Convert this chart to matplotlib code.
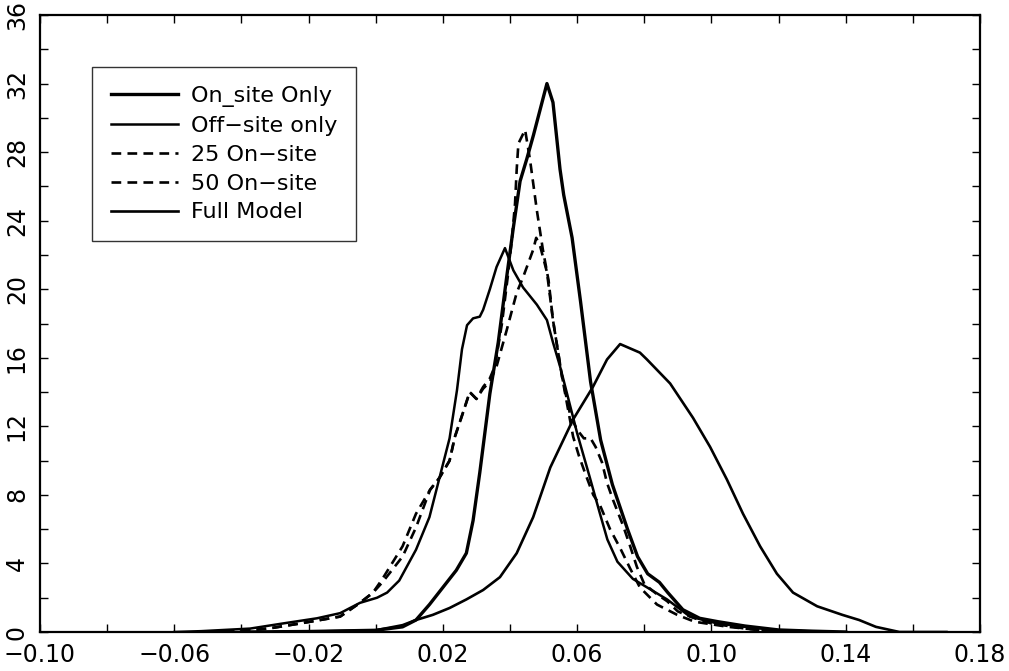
import matplotlib
matplotlib.use("Agg")
import matplotlib.pyplot as plt
from matplotlib.ticker import MultipleLocator

plt.rcParams['font.family'] = ['DejaVu Sans']
plt.rcParams['lines.scale_dashes'] = False

# ---- data ----
labels = ["On_site Only", "Off\u2212site only", "25 On\u2212site", "50 On\u2212site", "Full Model"]

on_site_x = [-0.04, -0.02, 0.0, 0.008, 0.012, 0.016, 0.020, 0.024, 0.027, 0.029, 0.031, 0.034,
             0.0365, 0.039, 0.041, 0.043, 0.045, 0.047, 0.049, 0.051, 0.0528, 0.0549, 0.056,
             0.0585, 0.061, 0.064, 0.067, 0.0705, 0.075, 0.078, 0.081, 0.0845, 0.087, 0.0915,
             0.0965, 0.102, 0.11, 0.12, 0.13, 0.14]
on_site_y = [0.0, 0.03, 0.1, 0.3, 0.7, 1.6, 2.6, 3.6, 4.6, 6.5, 9.3, 13.9,
             16.9, 20.7, 23.6, 26.3, 27.6, 29.0, 30.5, 32.0, 30.9, 27.0, 25.5,
             23.0, 19.3, 14.6, 11.2, 8.6, 6.0, 4.4, 3.4, 2.9, 2.3, 1.3,
             0.8, 0.6, 0.35, 0.12, 0.05, 0.0]

off_site_x = [-0.06, -0.052, -0.0374, -0.0276, -0.0175, -0.0106, -0.0047, 0.0004, 0.0034, 0.007,
              0.012, 0.016, 0.019, 0.022, 0.0242, 0.0257, 0.0272, 0.029, 0.031, 0.032, 0.034, 0.036,
              0.0385, 0.041, 0.0439, 0.048, 0.051, 0.0528, 0.0549, 0.057, 0.060, 0.0638, 0.0668,
              0.069, 0.072, 0.0766, 0.0817, 0.0868, 0.0936, 0.1017, 0.11, 0.12, 0.135]
off_site_y = [0.0, 0.05, 0.2, 0.5, 0.8, 1.1, 1.7, 2.0, 2.3, 3.0,
              4.8, 6.7, 9.0, 11.3, 14.1, 16.5, 17.9, 18.3, 18.4, 18.8, 20.0, 21.3,
              22.4, 21.1, 20.1, 19.1, 18.2, 16.9, 15.5, 13.9, 11.6, 9.0, 6.9,
              5.4, 4.1, 3.1, 2.5, 1.9, 0.9, 0.5, 0.3, 0.1, 0.0]

on25_x = [-0.045, -0.032, -0.0225, -0.0106, -0.0047, -0.0008, 0.002, 0.008, 0.012, 0.0162, 0.019,
          0.022, 0.0236, 0.026, 0.028, 0.030, 0.032, 0.034, 0.0355, 0.0376, 0.0395, 0.0406,
          0.0415, 0.042, 0.0425, 0.0445, 0.046, 0.048, 0.0498, 0.0515, 0.0528, 0.0555, 0.057,
          0.0588, 0.0605, 0.0625, 0.0648, 0.0668, 0.0698, 0.0728, 0.0758, 0.0787, 0.0838,
          0.0898, 0.095, 0.105, 0.12]
on25_y = [0.0, 0.2, 0.5, 0.9, 1.7, 2.3, 3.1, 5.0, 6.9, 8.3, 9.0,
          10.0, 11.4, 12.8, 14.0, 13.6, 14.3, 14.8, 15.5, 18.0, 21.0, 23.0,
          25.0, 27.0, 28.5, 29.3, 27.5, 24.6, 22.3, 20.5, 18.2, 14.9, 13.3,
          11.4, 10.3, 9.2, 8.0, 7.4, 6.0, 4.9, 3.7, 2.6, 1.6,
          1.0, 0.6, 0.3, 0.0]

on50_x = [-0.045, -0.032, -0.0225, -0.0106, -0.0047, -0.0008, 0.002, 0.008, 0.012, 0.0162, 0.019,
          0.022, 0.0236, 0.026, 0.028, 0.030, 0.032, 0.034, 0.036, 0.039, 0.042, 0.0439,
          0.0469, 0.0478, 0.049, 0.051, 0.0528, 0.0555, 0.058, 0.060, 0.062, 0.064, 0.0655,
          0.0674, 0.0689, 0.0707, 0.0737, 0.0758, 0.0778, 0.080, 0.0838, 0.0868, 0.090,
          0.095, 0.100, 0.110, 0.120]
on50_y = [0.0, 0.2, 0.5, 0.9, 1.7, 2.3, 2.9, 4.4, 6.1, 8.3, 9.0,
          10.0, 11.4, 12.8, 14.0, 13.6, 14.2, 14.6, 15.5, 17.6, 19.8, 20.7,
          22.3, 23.0, 22.5, 21.0, 18.2, 14.9, 12.6, 11.8, 11.3, 11.3, 10.8,
          9.9, 8.7, 7.7, 6.2, 5.0, 3.8, 2.8, 2.2, 1.8, 1.2,
          0.8, 0.5, 0.2, 0.0]

full_x = [-0.03, -0.02, 0.0, 0.008, 0.012, 0.017, 0.022, 0.027, 0.032, 0.037, 0.042, 0.0469,
          0.052, 0.0588, 0.0647, 0.0689, 0.0728, 0.0787, 0.0808, 0.0877, 0.0945, 0.0996,
          0.1046, 0.1094, 0.1145, 0.1195, 0.1243, 0.1315, 0.139, 0.144, 0.149, 0.156, 0.17]
full_y = [0.0, 0.02, 0.1, 0.4, 0.7, 1.0, 1.4, 1.9, 2.45, 3.2, 4.6, 6.7,
          9.6, 12.4, 14.3, 15.9, 16.8, 16.3, 15.9, 14.5, 12.5, 10.8,
          8.9, 6.9, 5.0, 3.4, 2.3, 1.5, 1.0, 0.7, 0.3, 0.0, 0.0]

x_ticks = [-0.10, -0.06, -0.02, 0.02, 0.06, 0.10, 0.14, 0.18]
x_ticklabels = ["\u22120.10", "\u22120.06", "\u22120.02", "0.02", "0.06", "0.10", "0.14", "0.18"]
y_ticks = [0, 4, 8, 12, 16, 20, 24, 28, 32, 36]

# ---- figure ----
fig = plt.figure(figsize=(10.09, 6.71), dpi=100)
ax = fig.add_axes([40 / 1009, 1 - 632 / 671, 940 / 1009, 617 / 671])

dash = (0, (7.0, 4.5))
ax.plot(on_site_x, on_site_y, color='black', lw=2.4, label=labels[0])
ax.plot(off_site_x, off_site_y, color='black', lw=1.8, label=labels[1])
ax.plot(on25_x, on25_y, color='black', lw=1.9, ls=dash, label=labels[2])
ax.plot(on50_x, on50_y, color='black', lw=1.9, ls=dash, label=labels[3])
ax.plot(full_x, full_y, color='black', lw=1.9, label=labels[4])

ax.set_xlim(-0.10, 0.18)
ax.set_ylim(0, 36)
ax.set_xticks(x_ticks)
ax.set_xticklabels(x_ticklabels)
ax.set_yticks(y_ticks)
ax.set_yticklabels([str(v) for v in y_ticks])
ax.xaxis.set_minor_locator(MultipleLocator(0.02))
ax.yaxis.set_minor_locator(MultipleLocator(2))

ax.tick_params(which='both', direction='in', top=True, right=True, length=6, width=1.0,
               color='black')
ax.tick_params(axis='x', labelsize=17, pad=8)
ax.tick_params(axis='y', labelsize=17, pad=8, labelrotation=90)
for lbl in ax.get_yticklabels():
    lbl.set_va('center')

for sp in ax.spines.values():
    sp.set_linewidth(1.6)
    sp.set_color('black')

leg = ax.legend(loc='upper left', bbox_to_anchor=((92 - 40) / 940, (632 - 67) / 617),
                fontsize=16, frameon=True, fancybox=False, shadow=False,
                handlelength=3.0, handletextpad=0.6, labelspacing=0.4, borderpad=0.85,
                borderaxespad=0.0)
leg.get_frame().set_edgecolor('black')
leg.get_frame().set_linewidth(1.0)

fig.savefig("out.png", dpi=100)
